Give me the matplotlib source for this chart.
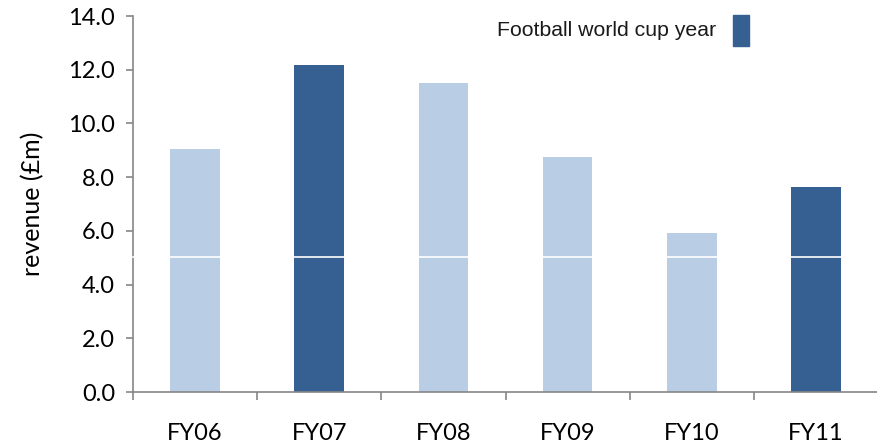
import numpy as np
import matplotlib
matplotlib.use("Agg")
import matplotlib.pyplot as plt
from matplotlib.patches import Rectangle

years = ["FY06", "FY07", "FY08", "FY09", "FY10", "FY11"]
revenue = [9.05, 12.17, 11.5, 8.75, 5.92, 7.63]
world_cup = [False, True, False, False, False, True]
yticks = [0, 2, 4, 6, 8, 10, 12, 14]

light = "#B9CDE5"
dark = "#366092"
axis_grey = "#868686"

plt.rcParams['font.family'] = ['Lato', 'DejaVu Sans']

fig = plt.figure(figsize=(8.78, 4.46), dpi=100)
ax = fig.add_axes([0.1515, 0.121, 0.8485, 0.843])

x = np.arange(len(years))
colors = [dark if wc else light for wc in world_cup]
ax.bar(x, revenue, width=0.4, color=colors, zorder=2)

# white break line across the chart
ax.axhline(5.03, color="white", linewidth=1.2, zorder=5, clip_on=False)

ax.set_xlim(-0.5, len(years) - 0.5)
ax.set_ylim(0, 14)
ax.set_yticks(yticks)
ax.set_yticklabels([f"{v:.1f}" for v in yticks], fontsize=17)
ax.set_xticks(x)
ax.set_xticklabels(years, fontsize=17)
ax.set_xticks(np.arange(-0.5, len(years) + 0.5, 1), minor=True)
ax.tick_params(axis="x", which="major", length=0, pad=22)
ax.tick_params(axis="x", which="minor", length=6, color=axis_grey, width=1.2)
ax.tick_params(axis="y", length=5, color=axis_grey, width=1.2, pad=8)

for side in ["top", "right"]:
    ax.spines[side].set_visible(False)
for side in ["left", "bottom"]:
    ax.spines[side].set_color(axis_grey)
    ax.spines[side].set_linewidth(1.2)

ax.set_ylabel("revenue (£m)", fontsize=18, labelpad=17)

# legend-style note
fig.text(497 / 878, 1 - 30 / 446, "Football world cup year", fontsize=15.3,
         family="Liberation Sans", va="center", ha="left", color="#1a1a1a")
fig.patches.append(Rectangle((733 / 878, 1 - 46 / 446), 16 / 878, 31 / 446,
                             transform=fig.transFigure, color=dark))

fig.savefig("out.png", dpi=100)
